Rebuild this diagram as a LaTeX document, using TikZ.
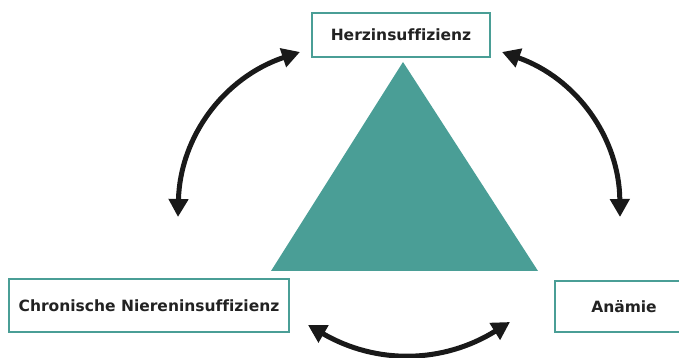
\documentclass[tikz,border=0pt]{standalone}
\usepackage{fontspec}
\setmainfont[Ligatures=NoCommon]{DejaVu Sans}
\usepackage{xcolor}
\usepackage{tikz}
\usetikzlibrary{arrows.meta, positioning, calc}
\definecolor{tealgreen}{HTML}{4A9E96}
\definecolor{textgray}{HTML}{222222}

\begin{document}
\begin{tikzpicture}[x=1pt,y=1pt,
  diagbox/.style={draw=tealgreen,line width=2.4pt,fill=white,
    text=textgray,font=\bfseries\fontsize{15.5}{17}\selectfont,
    inner sep=0pt,minimum height=#1},
  diagbox/.default=50,
  cyclearrow/.style={line width=5pt,black!90,
    {Triangle[length=18pt,width=19pt]}-{Triangle[length=18pt,width=19pt]}}]
  %% 1 unit = 1 px of the 679 x 358 frame (y upwards)
  \clip (0,0) rectangle (679,358);

  % Central triangle
  \fill[tealgreen] (403,296) -- (271,87) -- (538,87) -- cycle;

  % The three boxes
  \node[diagbox=44,minimum width=178] (herz) at (401,323) {Herzinsuffizienz};
  \node[diagbox=53,minimum width=280] (niere) at (149,52.5)
    {Chronische Niereninsuffizienz};
  \node[diagbox=51,minimum width=138] (anaemie) at (624,51.5) {Anämie};

  % Arrow ends
  \coordinate (leftlow)  at (178,141);
  \coordinate (lefthigh) at (300,306);
  \coordinate (righthigh) at (502,306);
  \coordinate (rightlow)  at (620,141);
  \coordinate (botleft)  at (308,33);
  \coordinate (botright) at (510,36);

  % Double arrows between the boxes
  \draw[cyclearrow] (leftlow) to[bend left=35] (lefthigh);
  \draw[cyclearrow] (righthigh) to[bend left=35] (rightlow);
  \draw[cyclearrow] (botleft) to[bend right=31] (botright);
\end{tikzpicture}
\end{document}
